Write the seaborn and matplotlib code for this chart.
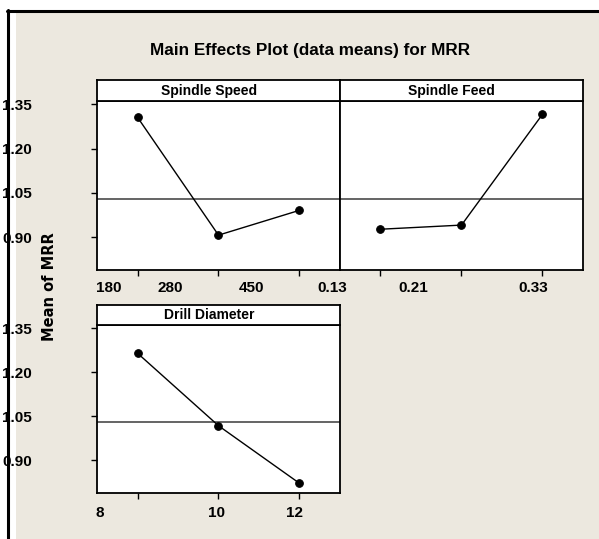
import matplotlib
matplotlib.use('Agg')
import matplotlib.pyplot as plt
import seaborn as sns
import numpy as np
import pandas as pd
from matplotlib.lines import Line2D
from matplotlib.patches import Rectangle

# ---------------- data ----------------
speed_levels = ['180', '280', '450']
speed_means = [1.306, 0.907, 0.991]
feed_levels = ['0.13', '0.21', '0.33']
feed_means = [0.927, 0.941, 1.316]
diam_levels = ['8', '10', '12']
diam_means = [1.265, 1.018, 0.822]
grand_mean = 1.031
y_ticks = [0.90, 1.05, 1.20, 1.35]
y_tick_labels = ['0.90', '1.05', '1.20', '1.35']
title = 'Main Effects Plot (data means) for MRR'
ylabel = 'Mean of MRR'

# ---------------- layout ----------------
W, H = 599, 539
# label x offsets (in level-index units) as they appear in the reference
speed_lbl_pos = [-0.36, 0.41, 1.41]
feed_lbl_pos = [-0.59, 0.41, 1.89]
diam_lbl_pos = [-0.47, 0.975, 1.94]

sns.set_theme(style='white')
plt.rcParams['font.family'] = ['Liberation Sans', 'DejaVu Sans']
plt.rcParams['text.color'] = 'black'
plt.rcParams['xtick.color'] = 'black'
plt.rcParams['ytick.color'] = 'black'
plt.rcParams['xtick.labelcolor'] = 'black'
plt.rcParams['ytick.labelcolor'] = 'black'
bg = '#ECE8DF'

fig = plt.figure(figsize=(W / 100, H / 100), dpi=100, facecolor='white')
fig.add_artist(Rectangle((16 / W, 0), 1 - 16 / W, 1 - 12 / H, transform=fig.transFigure,
                         facecolor=bg, edgecolor='none', zorder=-5))
fig.add_artist(Line2D([7.5 / W, 7.5 / W], [0, 1 - 10 / H], transform=fig.transFigure,
                      color='black', lw=2.2, zorder=20))
fig.add_artist(Line2D([6.5 / W, 1], [1 - 11 / H, 1 - 11 / H], transform=fig.transFigure,
                      color='black', lw=2.2, zorder=20))


def px_box(x0, y0, x1, y1):
    return [x0 / W, 1 - y1 / H, (x1 - x0) / W, (y1 - y0) / H]


def panel(box, strip_box, name, levels, means, lbl_pos, show_y, lbl_off):
    ax = fig.add_axes(px_box(*box))
    ax.set_facecolor('white')
    df = pd.DataFrame({'x': np.arange(len(levels)), 'y': means})
    ax.axhline(grand_mean, color='#4a4a4a', lw=1.2, zorder=1)
    sns.lineplot(data=df, x='x', y='y', ax=ax, color='black', lw=1.0,
                 marker='o', markersize=5.5, markeredgecolor='black', zorder=3)
    ax.set_xlim(-0.5, 2.5)
    ax.set_ylim(0.789, 1.361)
    ax.set_xlabel('')
    ax.set_ylabel('')
    ax.set_xticks(np.arange(len(levels)))
    ax.set_xticklabels([])
    ax.tick_params(axis='x', direction='out', length=4, width=1, color='black', bottom=True)
    if show_y:
        ax.set_yticks(y_ticks)
        ax.set_yticklabels(y_tick_labels)
        ax.tick_params(axis='y', direction='out', length=4, width=1, color='black',
                       left=True, pad=43, labelsize=11)
        for t in ax.get_yticklabels():
            t.set_fontweight('bold')
    else:
        ax.set_yticks([])
    for s in ax.spines.values():
        s.set_color('black')
        s.set_linewidth(1.3)
    for lvl, p in zip(levels, lbl_pos):
        ax.annotate(lvl, xy=(p, 0), xycoords=('data', 'axes fraction'),
                    xytext=(0, lbl_off), textcoords='offset points',
                    ha='center', va='center', fontsize=11, fontweight='bold',
                    color='black', annotation_clip=False)
    sax = fig.add_axes(px_box(*strip_box))
    sax.set_facecolor('white')
    sax.set_xticks([])
    sax.set_yticks([])
    for s in sax.spines.values():
        s.set_color('black')
        s.set_linewidth(1.3)
    sax.text(0.46, 0.5, name, ha='center', va='center', fontsize=10,
             fontweight='bold', color='black', transform=sax.transAxes)
    return ax


panel((97, 101, 340, 270), (97, 80, 340, 101), 'Spindle Speed', speed_levels, speed_means,
      speed_lbl_pos, True, -13)
panel((340, 101, 583, 270), (340, 80, 583, 101), 'Spindle Feed', feed_levels, feed_means,
      feed_lbl_pos, False, -13)
panel((97, 325, 340, 493), (97, 305, 340, 325), 'Drill Diameter', diam_levels, diam_means,
      diam_lbl_pos, True, -14.4)

fig.text(310 / W, 1 - 50 / H, title, ha='center', va='center', fontsize=12.3,
         fontweight='bold', color='black')
fig.text(50 / W, 1 - 287 / H, ylabel, ha='center', va='center', rotation=90,
         fontsize=10.5, fontweight='bold', color='black', family=['DejaVu Sans'])

fig.savefig('out.png', dpi=100, facecolor='white')
